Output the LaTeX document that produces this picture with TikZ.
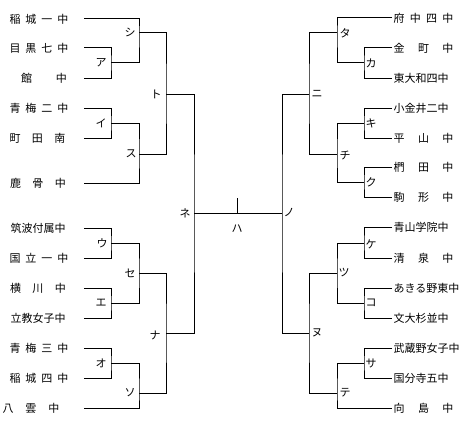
\documentclass[tikz,border=0pt]{standalone}
\usepackage{fontspec}
\setmainfont{Noto Sans CJK JP}
\newcommand\sprd[2]{\makebox[#1pt][s]{#2}}
\begin{document}
\begin{tikzpicture}[x=1pt,y=-1pt,line width=1pt,
  lab/.style={inner sep=0pt,font=\fontsize{11}{13}\selectfont},
  team/.style={inner sep=0pt,anchor=west,font=\fontsize{11}{13}\selectfont}]
\useasboundingbox (0,0) rectangle (471,436);
% ---------- left team line ends ----------
\coordinate (tL1) at (84,19);
\coordinate (tL2) at (84,48);
\coordinate (tL3) at (84,78);
\coordinate (tL4) at (84,108);
\coordinate (tL5) at (84,138);
\coordinate (tL6) at (84,183);
\coordinate (tL7) at (84,228);
\coordinate (tL8) at (84,258);
\coordinate (tL9) at (84,288);
\coordinate (tL10) at (84,318);
\coordinate (tL11) at (84,348);
\coordinate (tL12) at (84,378);
\coordinate (tL13) at (84,408);
% ---------- right team line ends ----------
\coordinate (tR1) at (392,18);
\coordinate (tR2) at (392,48);
\coordinate (tR3) at (392,78);
\coordinate (tR4) at (392,108);
\coordinate (tR5) at (392,138);
\coordinate (tR6) at (392,167);
\coordinate (tR7) at (392,197);
\coordinate (tR8) at (392,227);
\coordinate (tR9) at (392,258);
\coordinate (tR10) at (392,288);
\coordinate (tR11) at (392,318);
\coordinate (tR12) at (392,348);
\coordinate (tR13) at (392,378);
\coordinate (tR14) at (392,408);
% ---------- junctions ----------
\coordinate (jA) at (111,63);
\coordinate (jShi) at (139,33);
\coordinate (jI) at (111,123);
\coordinate (jSu) at (139,154);
\coordinate (jTo) at (166,94);
\coordinate (jU) at (111,243);
\coordinate (jE) at (111,303);
\coordinate (jSe) at (139,273);
\coordinate (jO) at (111,363);
\coordinate (jSo) at (139,393);
\coordinate (jNa) at (166,333);
\coordinate (jNe) at (194,213);
\coordinate (jKa) at (364,63);
\coordinate (jTa) at (337,33);
\coordinate (jKi) at (364,123);
\coordinate (jKu) at (364,182);
\coordinate (jChi) at (337,154);
\coordinate (jNi) at (309,94);
\coordinate (jKe) at (364,243);
\coordinate (jKo) at (364,303);
\coordinate (jTsu) at (337,273);
\coordinate (jSa) at (364,363);
\coordinate (jTe) at (337,393);
\coordinate (jNu) at (309,333);
\coordinate (jNo) at (282,213);
\coordinate (tick) at (237,198);
% ---------- left brackets ----------
\draw (tL2) -| (jA) |- (tL3);
\draw (tL1) -| (jShi) |- (jA);
\draw (tL4) -| (jI) |- (tL5);
\draw (jI) -| (jSu) |- (tL6);
\draw (jShi) -| (jTo) |- (jSu);
\draw (tL7) -| (jU) |- (tL8);
\draw (tL9) -| (jE) |- (tL10);
\draw (jU) -| (jSe) |- (jE);
\draw (tL11) -| (jO) |- (tL12);
\draw (jO) -| (jSo) |- (tL13);
\draw (jSe) -| (jNa) |- (jSo);
\draw (jTo) -| (jNe) |- (jNa);
% ---------- right brackets ----------
\draw (tR2) -| (jKa) |- (tR3);
\draw (tR1) -| (jTa) |- (jKa);
\draw (tR4) -| (jKi) |- (tR5);
\draw (tR6) -| (jKu) |- (tR7);
\draw (jKi) -| (jChi) |- (jKu);
\draw (jTa) -| (jNi) |- (jChi);
\draw (tR8) -| (jKe) |- (tR9);
\draw (tR10) -| (jKo) |- (tR11);
\draw (jKe) -| (jTsu) |- (jKo);
\draw (tR12) -| (jSa) |- (tR13);
\draw (jSa) -| (jTe) |- (tR14);
\draw (jTsu) -| (jNu) |- (jTe);
\draw (jNi) -| (jNo) |- (jNu);
% ---------- final ----------
\draw (jNe) -- (jNo);
\draw (tick) -- (tick |- jNe);
% ---------- labels ----------
\node[lab] (lShi) at ([xshift=-9pt,yshift=1pt]jShi) {シ};
\node[lab] (lA) at ([xshift=-10pt]jA) {ア};
\node[lab] (lI) at ([xshift=-10pt]jI) {イ};
\node[lab] (lSu) at ([xshift=-8pt]jSu) {ス};
\node[lab] (lTo) at ([xshift=-10pt]jTo) {ト};
\node[lab] (lU) at ([xshift=-9pt]jU) {ウ};
\node[lab] (lE) at ([xshift=-10pt]jE) {エ};
\node[lab] (lSe) at ([xshift=-9pt]jSe) {セ};
\node[lab] (lO) at ([xshift=-10pt]jO) {オ};
\node[lab] (lSo) at ([xshift=-9pt]jSo) {ソ};
\node[lab] (lNa) at ([xshift=-11pt,yshift=-2pt]jNa) {ナ};
\node[lab] (lNe) at ([xshift=-9pt]jNe) {ネ};
\node[lab] (lHa) at ([yshift=-16pt]tick |- jNe) {ハ};
\node[lab] (lNo) at ([xshift=7pt,yshift=1pt]jNo) {ノ};
\node[lab] (lTa) at ([xshift=8pt]jTa) {タ};
\node[lab] (lKa) at ([xshift=7pt]jKa) {カ};
\node[lab] (lKi) at ([xshift=7pt]jKi) {キ};
\node[lab] (lKu) at ([xshift=7pt]jKu) {ク};
\node[lab] (lChi) at ([xshift=8pt,yshift=-1pt]jChi) {チ};
\node[lab] (lNi) at ([xshift=8pt]jNi) {ニ};
\node[lab] (lKe) at ([xshift=7pt,yshift=-1pt]jKe) {ケ};
\node[lab] (lKo) at ([xshift=7pt]jKo) {コ};
\node[lab] (lTsu) at ([xshift=7pt]jTsu) {ツ};
\node[lab] (lSa) at ([xshift=7pt]jSa) {サ};
\node[lab] (lTe) at ([xshift=8pt]jTe) {テ};
\node[lab] (lNu) at ([xshift=8pt]jNu) {ヌ};
% ---------- left team names ----------
\node[team] (nL1) at (9,19) {\sprd{59}{稲\hfill 城\hfill 一\hfill 中}};
\node[team] (nL2) at (9,48) {\sprd{59}{目\hfill 黒\hfill 七\hfill 中}};
\node[team] (nL3) at (20.5,78) {\sprd{46}{館\hfill 中}};
\node[team] (nL4) at (9,108) {\sprd{59}{青\hfill 梅\hfill 二\hfill 中}};
\node[team] (nL5) at (9,138) {\sprd{56}{町\hfill 田\hfill 南}};
\node[team] (nL6) at (9.5,183) {\sprd{56}{鹿\hfill 骨\hfill 中}};
\node[team] (nL7) at (10,228) {筑波付属中};
\node[team] (nL8) at (9,258) {\sprd{59}{国\hfill 立\hfill 一\hfill 中}};
\node[team] (nL9) at (9.5,288) {\sprd{56}{横\hfill 川\hfill 中}};
\node[team] (nL10) at (10,318) {立教女子中};
\node[team] (nL11) at (9,348) {\sprd{59}{青\hfill 梅\hfill 三\hfill 中}};
\node[team] (nL12) at (9,378) {\sprd{59}{稲\hfill 城\hfill 四\hfill 中}};
\node[team] (nL13) at (2,408) {\sprd{57}{八\hfill 雲\hfill 中}};
% ---------- right team names ----------
\node[team] (nR1) at (393,18) {\sprd{60}{府\hfill 中\hfill 四\hfill 中}};
\node[team] (nR2) at (393,48) {\sprd{60}{金\hfill 町\hfill 中}};
\node[team] (nR3) at (393,78) {東大和四中};
\node[team] (nR4) at (393,108) {小金井二中};
\node[team] (nR5) at (393,138) {\sprd{60}{平\hfill 山\hfill 中}};
\node[team] (nR6) at (393,167) {\sprd{60}{椚\hfill 田\hfill 中}};
\node[team] (nR7) at (393,197) {\sprd{60}{駒\hfill 形\hfill 中}};
\node[team] (nR8) at (393,227) {青山学院中};
\node[team] (nR9) at (393,258) {\sprd{60}{清\hfill 泉\hfill 中}};
\node[team] (nR10) at (393,288) {あきる野東中};
\node[team] (nR11) at (393,318) {文大杉並中};
\node[team] (nR12) at (393,348) {武蔵野女子中};
\node[team] (nR13) at (393,378) {国分寺五中};
\node[team] (nR14) at (393,408) {\sprd{60}{向\hfill 島\hfill 中}};
\end{tikzpicture}
\end{document}
